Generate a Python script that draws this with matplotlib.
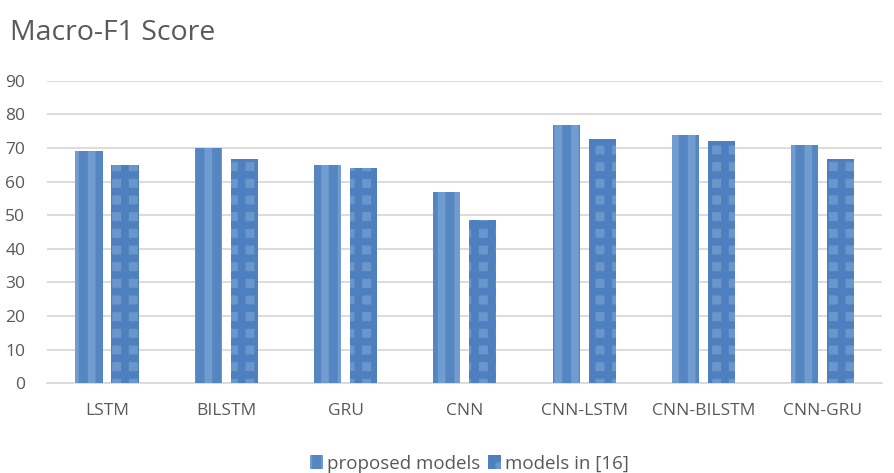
import numpy as np
import matplotlib.pyplot as plt

models = ['LSTM', 'BILSTM', 'GRU', 'CNN', 'CNN-LSTM', 'CNN-BILSTM', 'CNN-GRU']
proposed = [69, 70, 65, 57, 77, 74, 71]
baseline = [65, 66.7, 64, 48.6, 72.6, 72.1, 66.7]
series_names = ['proposed models', 'models in [16]']

plt.rcParams['font.family'] = ['Open Sans', 'DejaVu Sans']
plt.rcParams['hatch.linewidth'] = 5.5
text_col = '#595959'

fig = plt.figure(figsize=(8.94, 4.73), dpi=100)
ax = fig.add_axes([0.053, 0.19, 0.934, 0.639])

r = np.arange(len(models))
w = 0.227
b1 = ax.bar(r - 0.151, proposed, w, color='#5686C2', edgecolor='#719CD0',
            hatch='|', linewidth=0, label=series_names[0], zorder=3)
b2 = ax.bar(r + 0.151, baseline, w, color='#6B96CC', edgecolor='#4E7FBE',
            hatch='+', linewidth=0, label=series_names[1], zorder=3)

ax.set_xlim(-0.5, len(models) - 0.5)
ax.set_ylim(0, 90)
ax.set_yticks(np.arange(0, 91, 10))
ax.set_xticks(r)
ax.set_xticklabels(models)
ax.yaxis.grid(True, color='#D9D9D9', linewidth=1.3, zorder=0)
for s in ['top', 'right', 'left']:
    ax.spines[s].set_visible(False)
ax.spines['bottom'].set_color('#D9D9D9')
ax.spines['bottom'].set_linewidth(1.3)
ax.tick_params(axis='both', length=0, colors=text_col, labelsize=12.5)
ax.tick_params(axis='x', pad=14)
ax.tick_params(axis='y', pad=16)

fig.text(0.011, 0.915, 'Macro-F1 Score', fontsize=20.5, color=text_col)

leg = fig.legend(handles=[b1, b2], loc='lower center', bbox_to_anchor=(0.525, -0.035),
                 ncol=2, frameon=False, fontsize=13.5, handlelength=0.7,
                 handleheight=0.8, handletextpad=0.2, columnspacing=0.4)
for t in leg.get_texts():
    t.set_color(text_col)

plt.savefig('out.png', dpi=100)
